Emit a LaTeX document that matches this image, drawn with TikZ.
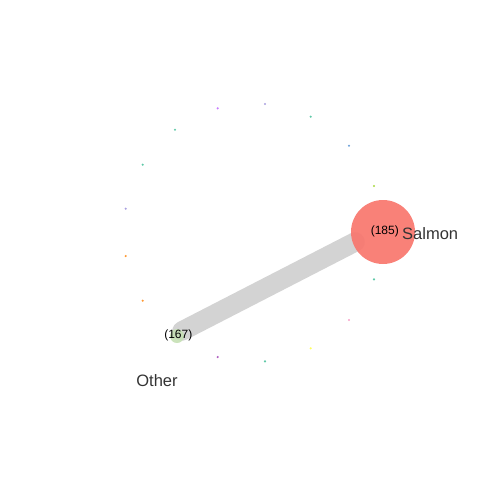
\documentclass[tikz,border=0pt]{standalone}
\usepackage{fontspec}
\setmainfont{Liberation Sans}
\usetikzlibrary{calc}
\definecolor{salmonc}{HTML}{F8766D}
\definecolor{otherc}{HTML}{C5E0B4}
\definecolor{edgec}{HTML}{D3D3D3}
\definecolor{txtc}{HTML}{333333}
\definecolor{dpurple}{HTML}{C77CFF}
\definecolor{dlav}{HTML}{A9A0DF}
\definecolor{dteal}{HTML}{5FC9A8}
\definecolor{dblue}{HTML}{6A9FD8}
\definecolor{dygreen}{HTML}{A8D840}
\definecolor{dorange}{HTML}{FF9933}
\definecolor{dyellow}{HTML}{FFFF60}
\definecolor{dpink}{HTML}{F8A0C8}
\definecolor{dpurple2}{HTML}{B060C0}
\tikzset{
  dotnode/.style={circle, inner sep=0pt, minimum size=2.4pt, fill=#1, draw=none},
  bignode/.style={circle, inner sep=0pt, minimum size=#1, draw=none},
  countlbl/.style={font=\fontsize{12}{14}\selectfont, text=black, inner sep=0pt},
  namelbl/.style={font=\fontsize{16.5}{19}\selectfont, text=txtc, inner sep=0pt},
  edgeline/.style={draw=edgec, line width=19.5pt, line cap=round}
}
\begin{document}
\begin{tikzpicture}[x=1pt, y=-1pt]
\useasboundingbox (0,0) rectangle (480,480);
% node positions
\coordinate (salmonc) at (383,232);
\coordinate (otherc) at (177,336);
% edge ends
\coordinate (eA) at (182,331);
\coordinate (eB) at (355,242);
\draw[edgeline] (eA) -- (eB);
\node[bignode=64pt, fill=salmonc, fill opacity=0.92] (salmon) at (salmonc) {};
\node[bignode=14pt, fill=otherc, fill opacity=0.9] (other) at (otherc) {};
% small nodes
\node[dotnode=dpurple] (d1) at (217.7,108.3) {};
\node[dotnode=dlav] (d2) at (265,104) {};
\node[dotnode=dteal] (d3) at (310.7,116.7) {};
\node[dotnode=dblue] (d4) at (349,145.7) {};
\node[dotnode=dygreen] (d5) at (374,186) {};
\node[dotnode=dteal] (d6) at (175,129.7) {};
\node[dotnode=dteal] (d7) at (142.7,164.7) {};
\node[dotnode=dlav] (d8) at (125.7,208.7) {};
\node[dotnode=dorange] (d9) at (125.7,256) {};
\node[dotnode=dorange] (d10) at (142.7,300.7) {};
\node[dotnode=dpurple2] (d11) at (217.7,357) {};
\node[dotnode=dteal] (d12) at (265,361.3) {};
\node[dotnode=dyellow] (d13) at (310.7,348.3) {};
\node[dotnode=dpink] (d14) at (349,320) {};
\node[dotnode=dteal] (d15) at (374,279.3) {};
% labels
\node[countlbl] (c185) at (384.8,231.7) {(185)};
\node[countlbl] (c167) at (178.3,335) {(167)};
\node[namelbl, anchor=west] (lsalmon) at (402,233.5) {Salmon};
\node[namelbl] (lother) at (157,380.5) {Other};
\end{tikzpicture}
\end{document}
